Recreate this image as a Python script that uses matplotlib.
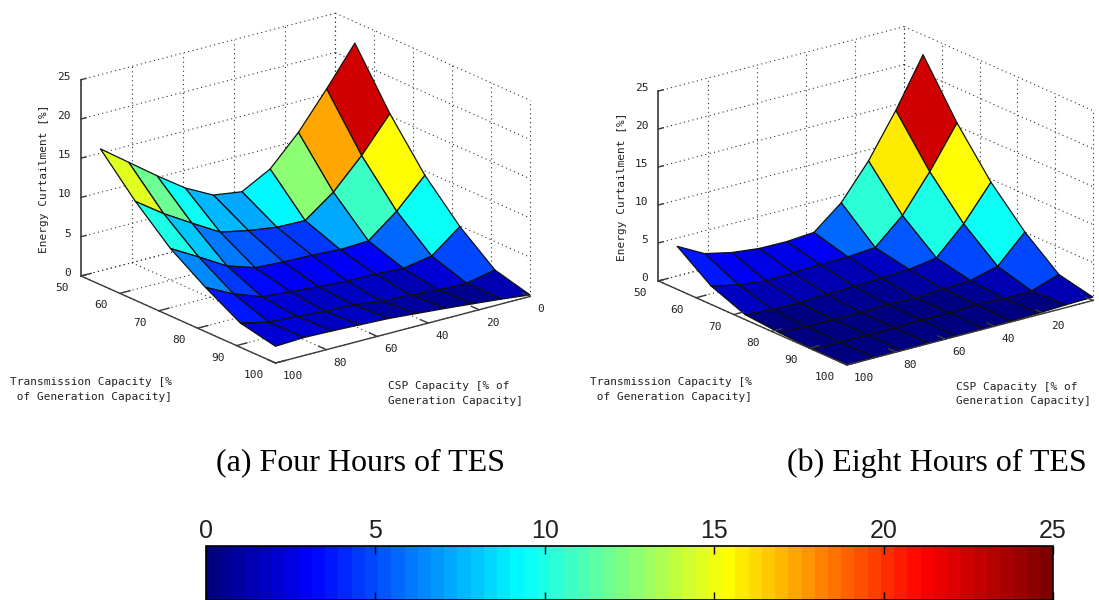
import numpy as np
import matplotlib
matplotlib.use('Agg')
import matplotlib.pyplot as plt
import matplotlib.cm as cm
import matplotlib.colors as mcolors
from mpl_toolkits.mplot3d import proj3d

# Surface grid
transmission = [55, 64, 73, 82, 91, 100]
csp = [100, 88.9, 77.8, 66.7, 55.6, 44.4, 33.3, 22.2, 11.1, 0]

# Energy curtailment [%], rows follow transmission, columns follow csp
curtail_four = [
    [17.3, 14.65, 12.0, 9.5, 7.65, 7.13, 9.08, 12.8, 17.4, 22.3],
    [12.6, 10.1, 7.95, 5.86, 5.12, 4.6, 4.5, 7.18, 10.9, 15.3],
    [8.6, 6.58, 4.49, 3.33, 3.11, 3.02, 2.8, 2.96, 5.8, 9.45],
    [5.64, 3.85, 2.56, 2.26, 1.95, 1.73, 1.68, 1.46, 2.09, 4.9],
    [3.08, 2.26, 2.04, 1.73, 1.64, 1.12, 1.02, 0.72, 0.63, 1.38],
    [2.13, 2.3, 2.2, 2.05, 1.9, 1.6, 1.3, 0.96, 0.61, 0.2],
]
curtail_eight = [
    [5.66, 3.76, 2.96, 2.55, 2.5, 2.77, 5.73, 10.3, 16.0, 22.4],
    [2.42, 1.62, 1.22, 1.31, 1.48, 1.52, 1.82, 5.09, 9.91, 15.4],
    [0.65, 0.38, 0.33, 0.5, 0.58, 0.71, 0.93, 1.5, 5.04, 9.59],
    [0.28, 0.1, 0.1, 0.1, 0.18, 0.13, 0.35, 0.52, 1.44, 5.02],
    [0.05, 0.05, 0.05, 0.05, 0.17, 0.12, 0.29, 0.15, 0.2, 1.43],
    [0.02, 0.03, 0.03, 0.05, 0.05, 0.08, 0.1, 0.19, 0.36, 0.44],
]

# Axis ticks
csp_ticks = [0, 20, 40, 60, 80, 100]
trans_ticks = [50, 60, 70, 80, 90, 100]
z_ticks = [0, 5, 10, 15, 20, 25]
bar_ticks = [0, 5, 10, 15, 20, 25]
# The right panel's 0 label falls off the edge of the picture
csp_labels_four = [0, 20, 40, 60, 80, 100]
csp_labels_eight = [20, 40, 60, 80, 100]

W, H = 1099, 600
MONO = 'DejaVu Sans Mono'
AXIS_COLOR = '#3a3a3a'
DOTTED = (0, (1, 3))

# Jet as the reference bar shows it, the top end is a bit compressed
cmap = mcolors.LinearSegmentedColormap.from_list('bar_jet', [
    (0.0, (0, 0, 0.5)),
    (0.12, (0, 0, 1)),
    (0.372, (0, 1, 1)),
    (0.617, (1, 1, 0)),
    (0.85, (1, 0, 0)),
    (1.0, (0.5, 0, 0)),
], N=64)
norm = mcolors.Normalize(vmin=0, vmax=25)

fig = plt.figure(figsize=(W / 100, H / 100), dpi=100, facecolor='white')


def screen_pos(ax, x, y, z):
    px, py, _ = proj3d.proj_transform(x, y, z, ax.get_proj())
    return ax.transData.transform((px, py))


def label(x, y, text, **kw):
    kw.setdefault('family', MONO)
    kw.setdefault('fontsize', 8)
    kw.setdefault('color', '#222222')
    kw.setdefault('va', 'center')
    fig.text(x / W, 1 - y / H, text, **kw)


# Scale and shift the 3D box so its corners land on the wanted pixels
def fit_axes(ax, left_x, right_x, front_x, front_y):
    size = 400.0
    x0, y0 = left_x, H - front_y - size
    for _ in range(3):
        ax.set_position([x0 / W, y0 / H, size / W, size / H])
        left = screen_pos(ax, 100, 50, 0)
        right = screen_pos(ax, 0, 100, 0)
        size = size * (right_x - left_x) / (right[0] - left[0])
        ax.set_position([x0 / W, y0 / H, size / W, size / H])
        front = screen_pos(ax, 100, 100, 0)
        x0 += front_x - front[0]
        y0 += (H - front_y) - front[1]
    ax.set_position([x0 / W, y0 / H, size / W, size / H])


def draw_panel(values, csp_labels, left_x, right_x, front_x, front_y, azim):
    ax = fig.add_subplot(projection='3d', proj_type='ortho', computed_zorder=False)
    ax.set_xlim(0, 100)
    ax.set_ylim(50, 100)
    ax.set_zlim(0, 25)
    ax.view_init(elev=20, azim=azim)
    ax.set_box_aspect((1, 1, 0.652))
    ax.set_axis_off()
    ax.patch.set_alpha(0)
    fit_axes(ax, left_x, right_x, front_x, front_y)

    grid = dict(color='#333333', lw=0.8, ls=DOTTED, zorder=1)
    # Walls and floor
    for c in csp_ticks:
        ax.plot([c, c], [50, 50], [0, 25], **grid)
        ax.plot([c, c], [50, 100], [0, 0], **grid)
    for t in trans_ticks:
        ax.plot([0, 0], [t, t], [0, 25], **grid)
        ax.plot([0, 100], [t, t], [0, 0], **grid)
    for z in z_ticks:
        ax.plot([0, 100], [50, 50], [z, z], **grid)
        ax.plot([0, 0], [50, 100], [z, z], **grid)

    # Flat colour comes from the low csp, low transmission corner of each cell
    Z = np.array(values)
    X, Y = np.meshgrid(csp, transmission)
    face = cmap(norm(Z[:-1, 1:]))
    surf = ax.plot_surface(X, Y, Z, rstride=1, cstride=1, facecolors=face,
                           shade=False, linewidth=0.9, zorder=2)
    surf.set_edgecolor('#111111')

    # Box axes
    line = dict(color=AXIS_COLOR, lw=1.0, zorder=3)
    ax.plot([100, 100], [50, 100], [0, 0], **line)
    ax.plot([0, 100], [100, 100], [0, 0], **line)
    ax.plot([100, 100], [50, 50], [0, 25], color='#555555', lw=1.4, zorder=3)
    for t in trans_ticks:
        ax.plot([100, 96], [t, t], [0, 0], **line)
    for c in csp_ticks:
        ax.plot([c, c], [100, 98], [0, 0], **line)
    for z in z_ticks:
        ax.plot([100, 98], [50, 50], [z, z], **line)

    # Tick labels sit a fixed number of pixels off their tick
    for z in z_ticks:
        p = screen_pos(ax, 100, 50, z)
        label(p[0] - 10, H - p[1] - 3, str(z), ha='right')
    for t in trans_ticks:
        p = screen_pos(ax, 100, t, 0)
        label(p[0] - 12, H - p[1] + 12, str(t), ha='right')
    for c in csp_labels:
        p = screen_pos(ax, c, 100, 0)
        label(p[0] + 7, H - p[1] + 13, str(c), ha='left')
    return ax


draw_panel(curtail_four, csp_labels_four, 81, 530, 275.5, 363, 52.6)
draw_panel(curtail_eight, csp_labels_eight, 658.5, 1093, 847, 365, 52.5)

# Left panel labels
label(44, 179, 'Energy Curtailment [%]', rotation=90, ha='center')
label(10, 382, 'Transmission Capacity [%')
label(10, 397, ' of Generation Capacity]')
label(388, 386, 'CSP Capacity [% of')
label(388, 401, 'Generation Capacity]')

# Right panel labels
label(622, 187, 'Energy Curtailment [%]', rotation=90, ha='center')
label(590, 382, 'Transmission Capacity [%')
label(590, 397, ' of Generation Capacity]')
label(956, 387, 'CSP Capacity [% of')
label(956, 401, 'Generation Capacity]')

# Captions
label(361, 463, '(a) Four Hours of TES', family='Liberation Serif', fontsize=23,
      color='black', ha='center')
label(937, 463, '(b) Eight Hours of TES', family='Liberation Serif', fontsize=23,
      color='black', ha='center')

# Colour bar runs off the bottom of the figure
cax = fig.add_axes([206 / W, 0, 847 / W, 54 / H])
sm = cm.ScalarMappable(cmap=cmap, norm=norm)
cbar = fig.colorbar(sm, cax=cax, orientation='horizontal', ticks=bar_ticks)
cax.xaxis.set_ticks_position('both')
cax.tick_params(axis='x', direction='in', length=6, width=1, labeltop=True,
                labelbottom=False, pad=2, labelsize=18, labelcolor='#222222')
for t in cax.get_xticklabels():
    t.set_family('Liberation Sans')
cbar.outline.set_linewidth(1.2)

fig.savefig('out.png', dpi=100)
